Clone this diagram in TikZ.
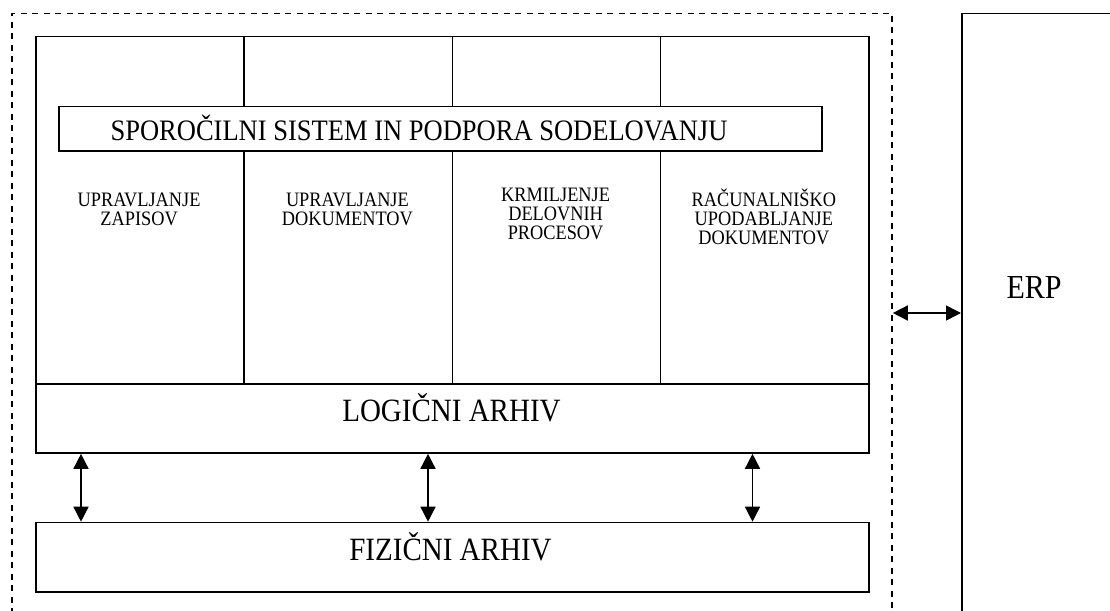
\documentclass[tikz,border=0pt]{standalone}
\usepackage{fontspec}
\setmainfont{Liberation Serif}
\newfontfamily\tallserif[FakeStretch=0.893]{Liberation Serif}
\usetikzlibrary{arrows.meta}
\begin{document}
\begin{tikzpicture}[x=1pt,y=-1pt,
  lw/.style={line width=1.5pt},
  blk/.style={draw, lw, rectangle, inner sep=0pt, anchor=north west},
  dbl/.style={lw, {Triangle[length=15pt,width=15pt]}-{Triangle[length=15pt,width=15pt]}},
  coltext/.style={align=center, inner sep=0pt, anchor=north, font=\tallserif\fontsize{20.5}{19}\selectfont},
  big/.style={inner sep=0pt, anchor=base, font=\tallserif\fontsize{32.5}{36}\selectfont},
]
\useasboundingbox (0,0) rectangle (1110,610);
% outer dashed system boundary and ERP
\node[blk, dash pattern=on 6pt off 5.5pt, minimum width=880pt, minimum height=612pt] (ecm) at (11.3,12.7) {};
\node[blk, minimum width=165pt, minimum height=612pt] (erp) at (961,12.7) {};
\node[big, font=\tallserif\fontsize{33.6}{37}\selectfont] (erptxt) at (1034,298) {ERP};
% columns
\node[blk, minimum width=208.25pt, minimum height=347.3pt] (col1) at (35,36) {};
\node[blk, minimum width=208.25pt, minimum height=347.3pt] (col2) at (243.25,36) {};
\node[blk, minimum width=208.25pt, minimum height=347.3pt] (col3) at (451.5,36) {};
\node[blk, minimum width=208.25pt, minimum height=347.3pt] (col4) at (659.75,36) {};
\node[coltext] (t1) at (139.1,187.5) {\rule{0pt}{19pt}UPRAVLJANJE\\ZAPISOV};
\node[coltext] (t2) at (347.4,187.5) {\rule{0pt}{19pt}UPRAVLJANJE\\DOKUMENTOV};
\node[coltext] (t3) at (555.6,182.5) {\rule{0pt}{19pt}KRMILJENJE\\DELOVNIH\\PROCESOV};
\node[coltext] (t4) at (763.9,187) {\rule{0pt}{19pt}RAČUNALNIŠKO\\UPODABLJANJE\\DOKUMENTOV};
% messaging bar
\node[blk, fill=white, minimum width=763pt, minimum height=44.3pt] (msg) at (58,105.7) {};
\node[big, font=\tallserif\fontsize{29.7}{33}\selectfont] (msgtxt) at (419,140) {SPOROČILNI SISTEM IN PODPORA SODELOVANJU};
% archives
\node[blk, minimum width=833pt, minimum height=69pt] (logic) at (35,383.3) {};
\node[big] (logictxt) at (451.5,421) {LOGIČNI ARHIV};
\node[blk, minimum width=833pt, minimum height=69.3pt] (phys) at (35,521.7) {};
\node[big] (phystxt) at (450.5,560) {FIZIČNI ARHIV};
% connectors
\coordinate (a1) at (81,0);
\coordinate (a2) at (428,0);
\coordinate (a3) at (752.5,0);
\coordinate (e) at (0,313);
\draw[dbl] (logic.south -| a1) -- (phys.north -| a1);
\draw[dbl] (logic.south -| a2) -- (phys.north -| a2);
\draw[dbl] (logic.south -| a3) -- (phys.north -| a3);
\draw[dbl] (ecm.east |- e) -- (erp.west |- e);
\end{tikzpicture}
\end{document}
